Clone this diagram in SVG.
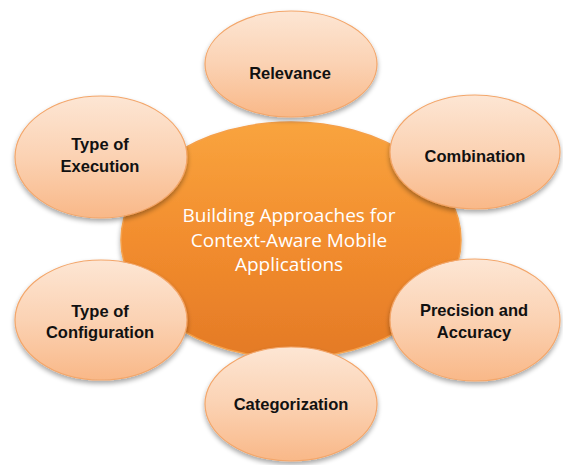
<svg xmlns="http://www.w3.org/2000/svg" width="563" height="465" viewBox="0 0 563 465">
<defs>
<linearGradient id="gc" x1="0" y1="0" x2="0" y2="1">
<stop offset="0" stop-color="#f9a43e"/>
<stop offset="0.5" stop-color="#f28d2e"/>
<stop offset="1" stop-color="#e47a26"/>
</linearGradient>
<linearGradient id="gs" x1="0" y1="0" x2="0" y2="1">
<stop offset="0" stop-color="#fde6d4"/>
<stop offset="0.5" stop-color="#fbd2b3"/>
<stop offset="1" stop-color="#f9b888"/>
</linearGradient>
<filter id="sh" x="-20%" y="-20%" width="140%" height="150%">
<feGaussianBlur in="SourceAlpha" stdDeviation="2.5"/>
<feOffset dx="0" dy="3" result="b"/>
<feComponentTransfer><feFuncA type="linear" slope="0.35"/></feComponentTransfer>
<feMerge><feMergeNode/><feMergeNode in="SourceGraphic"/></feMerge>
</filter>
</defs>
<style>
.sat{fill:url(#gs);stroke:#f3a66a;stroke-width:1.2;filter:url(#sh)}
.lbl{font-family:"Liberation Sans",Arial,sans-serif;font-weight:bold;font-size:16.5px;fill:#111;text-anchor:middle}
.ctr{font-family:"Open Sans","Liberation Sans",sans-serif;font-size:19px;fill:#fff;text-anchor:middle}
</style>
<rect width="563" height="465" fill="#fff"/>
<g id="center">
<ellipse cx="291" cy="240" rx="170" ry="118" fill="url(#gc)" stroke="#f5a04a" stroke-width="1.5" filter="url(#sh)"/>
<text class="ctr" x="289" y="222">Building Approaches for</text>
<text class="ctr" x="289" y="247">Context-Aware Mobile</text>
<text class="ctr" x="289" y="271">Applications</text>
</g>
<g id="connectors"></g>
<g id="relevance">
<ellipse class="sat" cx="291" cy="64" rx="86" ry="53"/>
<text class="lbl" x="290" y="79">Relevance</text>
</g>
<g id="combination">
<ellipse class="sat" cx="475" cy="152" rx="85" ry="57"/>
<text class="lbl" x="475" y="162">Combination</text>
</g>
<g id="execution">
<ellipse class="sat" cx="101" cy="157" rx="86" ry="61"/>
<text class="lbl" x="100" y="150">Type of</text>
<text class="lbl" x="100" y="172">Execution</text>
</g>
<g id="configuration">
<ellipse class="sat" cx="101" cy="320" rx="86" ry="60"/>
<text class="lbl" x="100" y="317">Type of</text>
<text class="lbl" x="100" y="338">Configuration</text>
</g>
<g id="precision">
<ellipse class="sat" cx="475" cy="320" rx="85" ry="61"/>
<text class="lbl" x="474" y="316">Precision and</text>
<text class="lbl" x="474" y="338">Accuracy</text>
</g>
<g id="categorization">
<ellipse class="sat" cx="291" cy="404" rx="86" ry="57"/>
<text class="lbl" x="291" y="410">Categorization</text>
</g>
</svg>
